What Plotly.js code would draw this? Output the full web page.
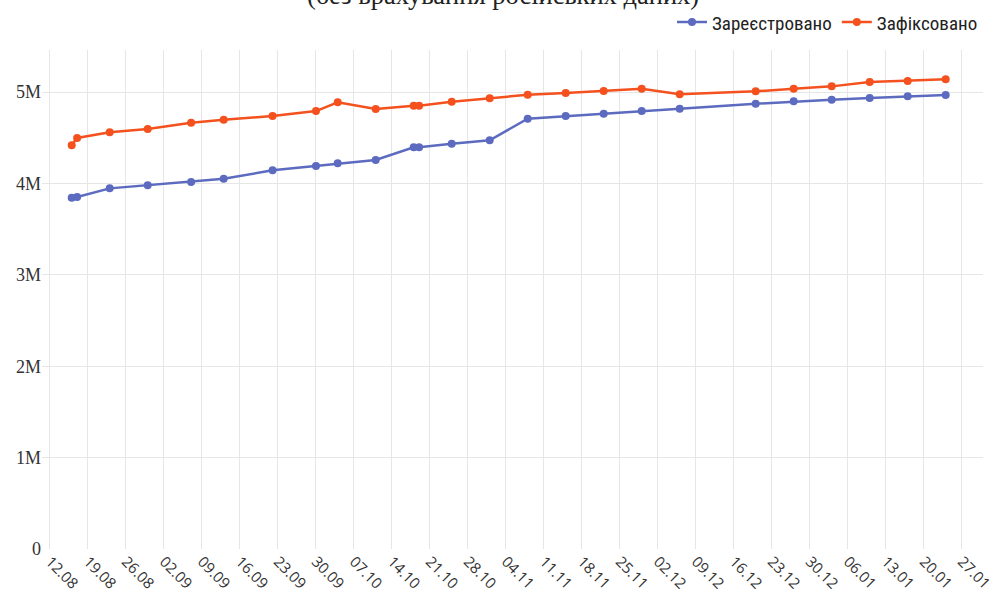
<!DOCTYPE html>
<html>
<head>
<meta charset="utf-8">
<script src="https://cdn.plot.ly/plotly-3.0.1.min.js"></script>
<style>html,body{margin:0;padding:0;background:#fff;}#chart{width:997px;height:601px;}</style>
</head>
<body>
<div id="chart"></div>
<script>
var dates = ['2024-08-16','2024-08-17','2024-08-23','2024-08-30','2024-09-07','2024-09-13','2024-09-22','2024-09-30','2024-10-04','2024-10-11','2024-10-18','2024-10-19','2024-10-25','2024-11-01','2024-11-08','2024-11-15','2024-11-22','2024-11-29','2024-12-06','2024-12-20','2024-12-27','2025-01-03','2025-01-10','2025-01-17','2025-01-24'];
var registered = [3844000,3851000,3946000,3979000,4015000,4051000,4143000,4190000,4220000,4256000,4395000,4395000,4434000,4472000,4708000,4737000,4763000,4792000,4817000,4872000,4898000,4916000,4934000,4953000,4967000];
var recorded = [4417000,4497000,4559000,4595000,4664000,4697000,4737000,4792000,4887000,4814000,4850000,4850000,4894000,4931000,4970000,4989000,5011000,5036000,4975000,5008000,5036000,5062000,5109000,5120000,5139000];
var seriesNames = ['Зареєстровано','Зафіксовано'];
var titleText = '(без врахування російських даних)';

var traces = [
  {x: dates, y: registered, name: seriesNames[0], type: 'scatter', mode: 'lines+markers',
   line: {color: '#5c6bc0', width: 2.5}, marker: {color: '#5c6bc0', size: 8}},
  {x: dates, y: recorded, name: seriesNames[1], type: 'scatter', mode: 'lines+markers',
   line: {color: '#f4511e', width: 2.5}, marker: {color: '#f4511e', size: 8}}
];

var layout = {
  width: 997, height: 601,
  margin: {l: 42, r: 14, t: 50, b: 52, autoexpand: false},
  paper_bgcolor: '#fff', plot_bgcolor: '#fff',
  annotations: [{text: titleText, xref: 'paper', x: 0.49, xanchor: 'center',
                 yref: 'paper', y: 1, yanchor: 'bottom', yshift: 38, showarrow: false,
                 font: {family: 'Liberation Serif, serif', size: 26.5, color: '#222'}}],
  showlegend: true,
  legend: {orientation: 'h', x: 1, xanchor: 'right', xref: 'paper', y: 0.963, yref: 'container', yanchor: 'middle',
           font: {family: 'Liberation Sans Narrow, Roboto Condensed, Roboto, sans-serif', size: 19, color: '#222'},
           bgcolor: 'rgba(0,0,0,0)'},
  xaxis: {type: 'date', range: ['2024-08-10 12:40', '2025-01-30 21:00'],
          tick0: '2024-08-12', dtick: 7*24*3600*1000, tickformat: '%d.%m', tickangle: 45,
          showgrid: true, gridcolor: '#e6e6e6', gridwidth: 1, zeroline: false, showline: false,
          ticks: '', tickfont: {family: 'Open Sans, sans-serif', size: 15, color: '#333'}},
  yaxis: {range: [0, 5460000], dtick: 1000000, tickformat: '~s',
          showgrid: true, gridcolor: '#e6e6e6', gridwidth: 1, zeroline: false, showline: false,
          ticks: '', tickfont: {family: 'Liberation Serif, serif', size: 18, color: '#333'}}
};

Plotly.newPlot('chart', traces, layout, {displayModeBar: false});
</script>
</body>
</html>
